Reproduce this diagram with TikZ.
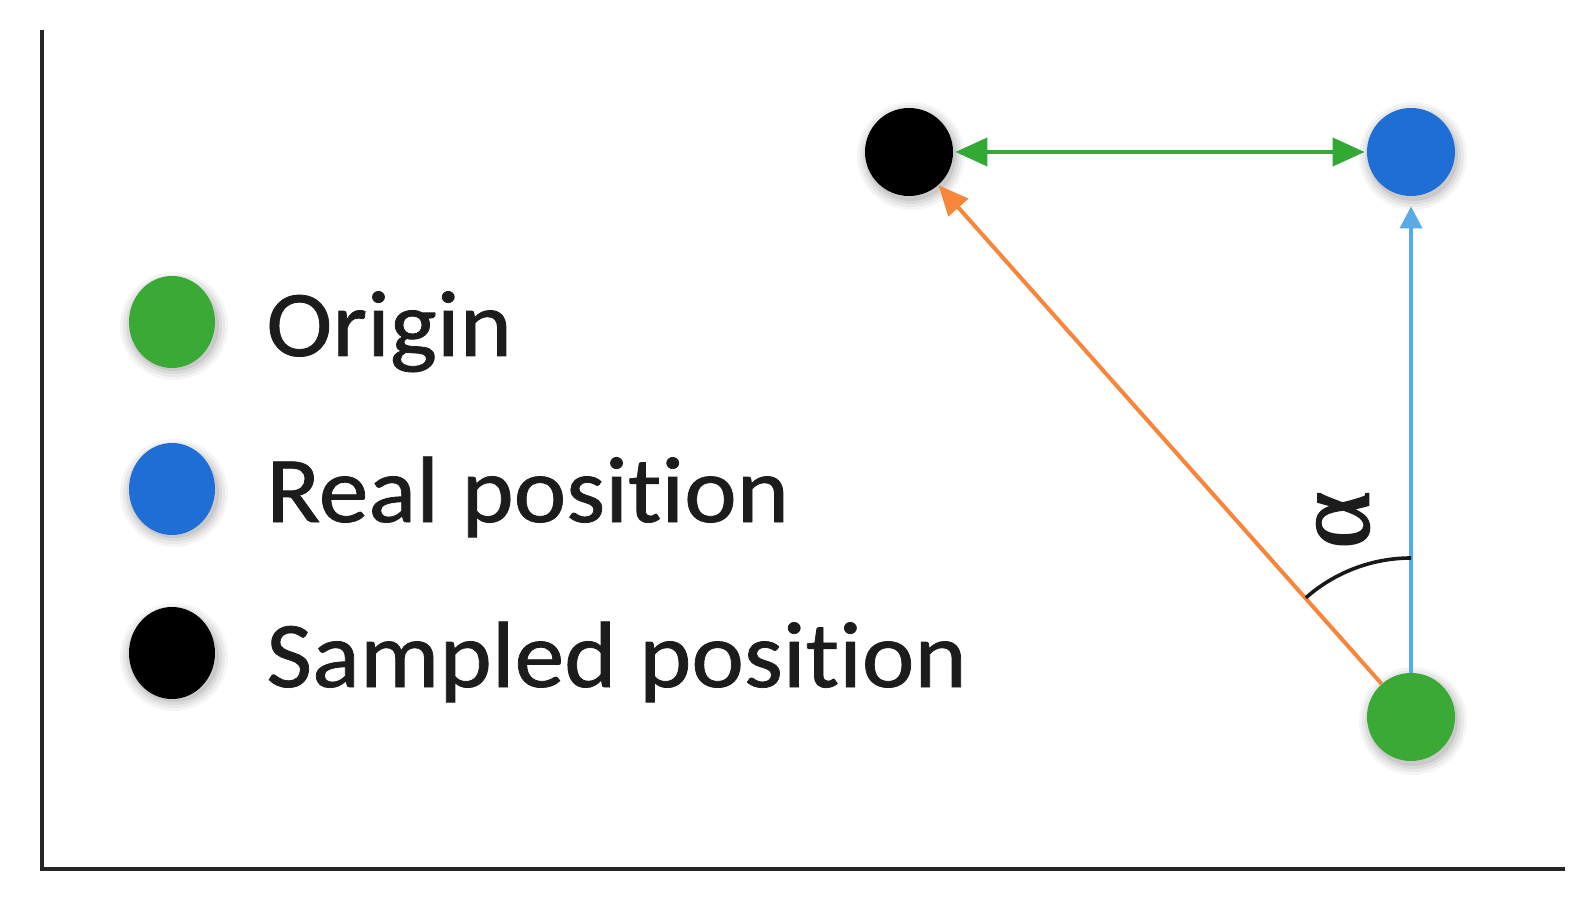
\documentclass[tikz,border=0pt]{standalone}
\usepackage{fontspec}
\setmainfont{Carlito}[Ligatures=NoCommon, FakeStretch=1.06, FakeBold=0.8]
\newfontfamily\alphafont{Liberation Serif}[FakeBold=1.5]
\usetikzlibrary{arrows.meta,calc,shapes.geometric}
\definecolor{cgreen}{HTML}{3AA935}
\definecolor{cblue}{HTML}{1F6ED6}
\definecolor{agreen}{HTML}{34A834}
\definecolor{ablue}{HTML}{5AAAE6}
\definecolor{aorange}{HTML}{F7853A}
\definecolor{txt}{HTML}{1C1C1C}
\tikzset{
  dot/.style={circle, minimum size=44pt, inner sep=0pt},
  legdot/.style={ellipse, minimum width=43pt, minimum height=46pt, inner sep=0pt},
  legtext/.style={anchor=base west, inner sep=0pt, font=\fontsize{47}{56}\selectfont, text=txt},
  axis/.style={line width=2pt, draw=black!85},
}
\newcommand{\softshadow}[1]{%
  \foreach \r/\o in {27/0.04,25.5/0.05,24/0.06,22.5/0.08}{%
    \fill[black, opacity=\o] ($#1+(2,-4)$) circle (\r pt);}%
}
\begin{document}
\begin{tikzpicture}[x=0.5pt,y=0.5pt]
\useasboundingbox (0,0) rectangle (1588,900);
% axes
\draw[axis] (41.5,870) -- (41.5,31) -- (1565,31);
% shadows
\softshadow{(909,748)}
\softshadow{(1411,748)}
\softshadow{(1411,183)}
\softshadow{(172,578)}
\softshadow{(172,411)}
\softshadow{(172,247)}
% main points
\node[dot, fill=black] (S) at (909,748) {};
\node[dot, fill=cblue] (R) at (1411,748) {};
\node[dot, fill=cgreen] (O) at (1411,183) {};
% legend
\node[legdot, fill=cgreen] (LO) at (172,578) {};
\node[legdot, fill=cblue] (LR) at (172,411) {};
\node[legdot, fill=black] (LS) at (172,247) {};
\node[legtext] (TO) at (266,544) {Origin};
\node[legtext] (TR) at (266,378) {Real position};
\node[legtext] (TS) at (266,213) {Sampled position};
% connectors
\draw[agreen, line width=2pt, {Triangle[length=16pt,width=14pt]}-{Triangle[length=16pt,width=14pt]}, shorten <=1pt, shorten >=1pt] (S) -- (R);
\draw[ablue, line width=1.8pt, -{Triangle[length=11pt,width=11pt]}, shorten >=5pt] (O) -- (R);
\draw[aorange, line width=2pt, -{Triangle[length=15pt,width=13pt]}] (O) -- (S);
% angle
\draw[black!90, line width=1.8pt] ($(O)+(90:159)$) arc[start angle=90, end angle=131.4, radius=79.5pt];
\node[rotate=90, inner sep=0pt, font=\alphafont\fontsize{55}{60}\selectfont, text=txt] (alpha) at (1343,380) {α};
\end{tikzpicture}
\end{document}
